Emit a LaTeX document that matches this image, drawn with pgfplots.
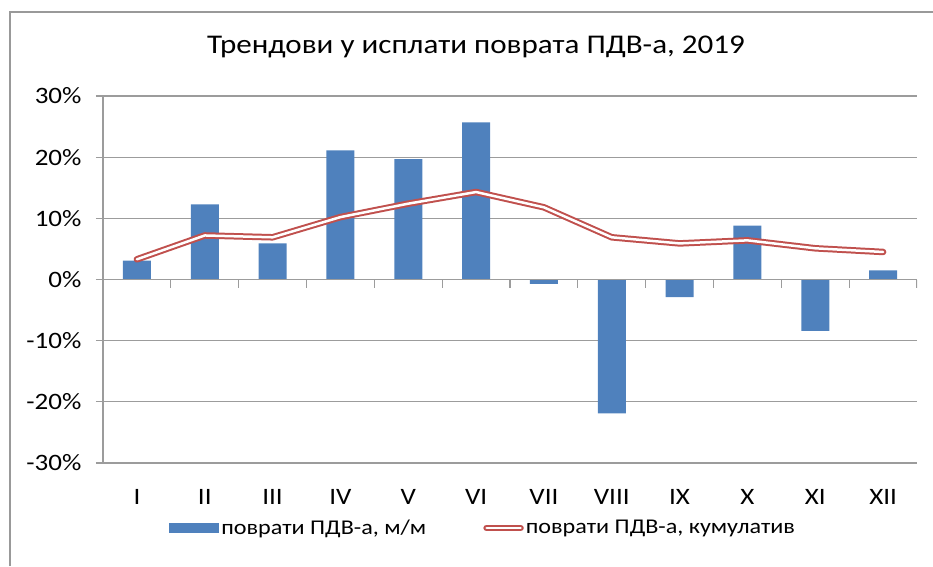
\documentclass[border=0pt]{standalone}
\usepackage{fontspec}
\setmainfont{Carlito}[FakeStretch=1.15]
\usepackage{pgfplots}
\pgfplotsset{compat=1.18}
\definecolor{barblue}{HTML}{4F81BD}
\definecolor{linered}{HTML}{C0504D}
\definecolor{gridgray}{HTML}{9C9C9C}
\begin{document}
\begin{tikzpicture}
\path[use as bounding box] (0pt,0pt) rectangle (933pt,566pt);
\draw[gray!80, line width=1.5pt] (10pt,0pt) -- (10pt,554pt) -- (933pt,554pt);
\node[font=\fontsize{27}{30}\selectfont] at (476pt,519pt) {Трендови у исплати поврата ПДВ-а, 2019};
\begin{axis}[
  at={(103pt,103pt)}, anchor=south west,
  width=814pt, height=367pt, scale only axis,
  xmin=0.5, xmax=12.5, ymin=-30, ymax=30,
  axis y line*=left, axis x line*=bottom,
  x axis line style={draw=none},
  y axis line style={gridgray, line width=1.2pt},
  xtick={1,...,12},
  xticklabels={I,II,III,IV,V,VI,VII,VIII,IX,X,XI,XII},
  x tick style={draw=none},
  ytick={-30,-20,...,30},
  yticklabel={\pgfmathprintnumber{\tick}\%},
  /pgf/number format/assume math mode=true,
  y tick style={gridgray, line width=1.2pt},
  tick align=outside, major tick length=7pt,
  ymajorgrids, major grid style={gridgray, line width=1.2pt},
  tick label style={font=\fontsize{23.5}{26}\selectfont},
  yticklabel style={xshift=-11pt},
  xticklabel style={yshift=-16pt},
  legend style={at={(0.467,-0.177)}, anchor=center, draw=none,
    font=\fontsize{21}{24}\selectfont, legend columns=2,
    /tikz/every even column/.append style={column sep=55pt},
    nodes={inner sep=2pt}},
]
\addplot[ybar, bar width=28pt, fill=barblue, draw=none,
  legend image code/.code={\fill[barblue] (0pt,-5pt) rectangle (50pt,5pt);}]
  coordinates {(1,3.1) (2,12.3) (3,5.9) (4,21.1) (5,19.7) (6,25.7) (7,-0.7) (8,-21.9) (9,-2.9) (10,8.8) (11,-8.4) (12,1.5)};
\addlegendentry{поврати ПДВ-а, м/м}
\draw[gridgray, line width=1.2pt] (axis cs:0.5,0) -- (axis cs:12.5,0);
\pgfplotsinvokeforeach{0.5,1.5,...,12.5}{\draw[gridgray, line width=1.2pt] (axis cs:#1,0) -- ++(0pt,-8pt);}
\addplot[linered, line width=6.5pt, line join=round, line cap=round,
  legend image code/.code={\draw[linered, line width=6.5pt, line cap=round] (3pt,0pt) -- (37pt,0pt); \draw[white, line width=2.5pt, line cap=round] (3pt,0pt) -- (37pt,0pt);}]
  coordinates {(1,3.3) (2,7.2) (3,6.9) (4,10.2) (5,12.4) (6,14.3) (7,11.8) (8,6.9) (9,5.9) (10,6.4) (11,5.1) (12,4.5)};
\addlegendentry{поврати ПДВ-а, кумулатив}
\addplot[white, line width=2.5pt, line join=round, line cap=round, forget plot]
  coordinates {(1,3.3) (2,7.2) (3,6.9) (4,10.2) (5,12.4) (6,14.3) (7,11.8) (8,6.9) (9,5.9) (10,6.4) (11,5.1) (12,4.5)};
\end{axis}
\end{tikzpicture}
\end{document}
